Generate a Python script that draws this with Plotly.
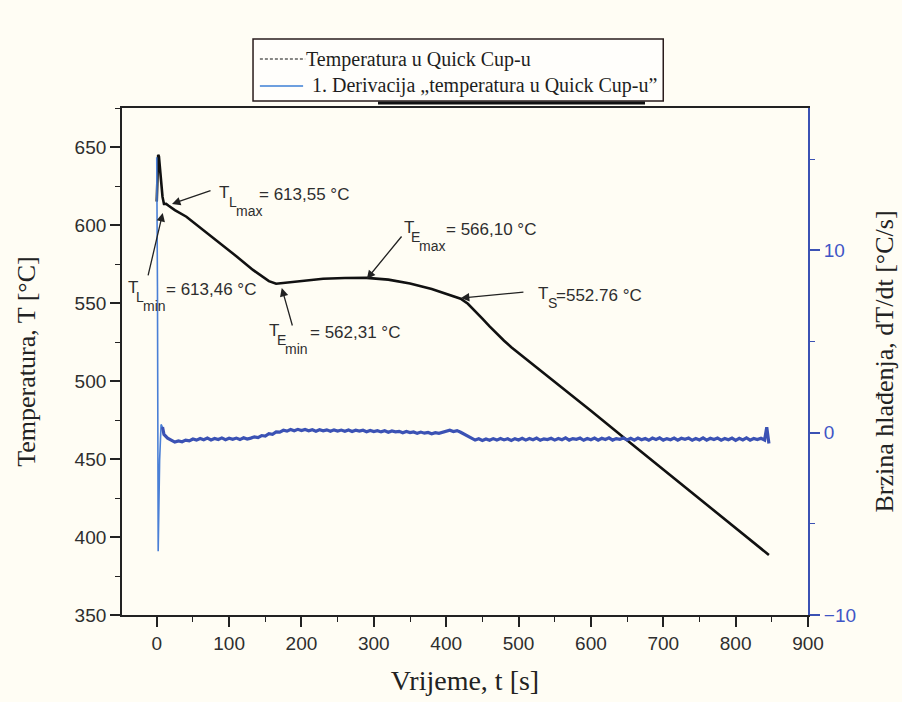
import plotly.graph_objects as go

# ---- Temperature curve (left axis) ----
temp_t = [0, 1, 2, 3, 5, 8, 10, 13, 16, 25, 41, 60, 87, 110, 133, 145, 155, 165, 180, 200, 230, 260,
          290, 320, 350, 380, 400, 420, 430, 440, 450, 460, 470, 480, 490, 500, 510, 550, 600, 650,
          700, 750, 800, 846]
temp_T = [615, 638, 645, 644, 632, 618, 613.46, 613.55, 612.5, 609.5, 605.3, 598.5, 588.5, 580, 571.2,
          567, 564, 562.31, 563, 564.3, 565.5, 566.0, 566.1, 565, 562.5, 559, 556, 552.76, 549.5, 545,
          540, 535, 530.2, 525.8, 521.6, 517.9, 514.1, 499.7, 480.9, 462, 443.4, 424.6, 405.8, 388.5]

# ---- First derivative (right axis) ----
deriv_t_start = [0, 1, 2, 3, 4, 6, 8]
deriv_v_start = [15.1, 8, -6.5, -4, -1.5, 0.45, 0.3]
deriv_v_main = [
    -0.10, -0.30, -0.42, -0.52, -0.46, -0.50, -0.41, -0.45, -0.35, -0.41,
    -0.32, -0.39, -0.30, -0.40, -0.32, -0.38, -0.29, -0.39, -0.31, -0.37,
    -0.30, -0.38, -0.28, -0.35, -0.30, -0.23, -0.27, -0.16, -0.19, -0.06,
    -0.09, 0.04, 0.03, 0.13, 0.08, 0.17, 0.10, 0.18, 0.11, 0.17,
    0.10, 0.16, 0.08, 0.16, 0.10, 0.15, 0.07, 0.15, 0.09, 0.14,
    0.07, 0.14, 0.06, 0.13, 0.08, 0.13, 0.05, 0.12, 0.06, 0.11,
    0.04, 0.10, 0.02, 0.09, 0.04, 0.07, -0.01, 0.06, 0.00, 0.04,
    -0.04, 0.03, -0.03, 0.01, -0.06, 0.00, -0.04, 0.03, 0.10, 0.13,
    0.06, 0.11, 0.02, -0.10, -0.22, -0.34, -0.41, -0.34, -0.43, -0.35,
    -0.42, -0.33, -0.41, -0.32, -0.40, -0.34, -0.43, -0.33, -0.40, -0.31,
    -0.41, -0.32, -0.39, -0.30, -0.42, -0.34, -0.38, -0.31, -0.41, -0.32,
    -0.39, -0.29, -0.41, -0.33, -0.37, -0.30, -0.42, -0.32, -0.39, -0.30,
    -0.41, -0.31, -0.38, -0.29, -0.41, -0.33, -0.37, -0.30, -0.40, -0.31,
    -0.41, -0.30, -0.39, -0.32, -0.42, -0.30, -0.38, -0.29, -0.41, -0.33,
    -0.39, -0.30, -0.41, -0.31, -0.37, -0.30, -0.42, -0.32, -0.40, -0.29,
    -0.41, -0.31, -0.38, -0.30, -0.41, -0.32, -0.39, -0.30, -0.42, -0.31,
    -0.40, -0.29, -0.41, -0.32, -0.38, -0.31, -0.41,
]
deriv_t_main = list(range(10, 10 + 5 * len(deriv_v_main), 5))
deriv_t_end = [843, 846]
deriv_v_end = [0.3, -0.6]
deriv_t = deriv_t_start + deriv_t_main + deriv_t_end
deriv_v = deriv_v_start + deriv_v_main + deriv_v_end
n_spike = len(deriv_t_start)

# ---- Axis ticks ----
x_ticks = [0, 100, 200, 300, 400, 500, 600, 700, 800, 900]
y_ticks = [350, 400, 450, 500, 550, 600, 650]
y2_ticks = [-10, 0, 10]

# ---- Point labels ----
# (symbol, sub, subsub, value text, anchor t, anchor T, sub shift, subsub shift, value shift)
labels = [
    ("T", "L", "max", "= 613,55 °C", 84.7, 620.8, 10, 17, 40),
    ("T", "L", "min", "= 613,46 °C", -41.0, 559.9, 8, 15, 38),
    ("T", "E", "min", "= 562,31 °C", 153.8, 532.1, 8, 16, 41),
    ("T", "E", "max", "= 566,10 °C", 340.4, 598.4, 7, 15, 42),
    ("T", "S", "", "=552.76 °C", 525.6, 555.8, 10, 0, 18),
]
# arrows: (head t, head T, tail t, tail T)
arrows = [
    (21.1, 613.5, 76.4, 622.4),
    (8.3, 607.7, -12.4, 566.7),
    (172.8, 559.6, 188.0, 534.6),
    (290.3, 565.4, 340.0, 593.6),
    (420.3, 553.2, 508.8, 557.0),
]

legend_names = ["Temperatura u Quick Cup-u", "1. Derivacija „temperatura u Quick Cup-u”"]

BLUE = "#3b52b4"
BLUE_LIGHT = "#4a7fd6"
BLUE_TXT = "#3f55c6"
BG = "#fffdf4"
SERIF = "Liberation Serif, Times New Roman, serif"
SANS = "Liberation Sans, Arial, sans-serif"
TXT = "#2e2e2e"

fig = go.Figure()
fig.add_trace(go.Scatter(x=temp_t, y=temp_T, mode="lines", line=dict(color="#111111", width=2.6),
                         showlegend=False, yaxis="y"))
fig.add_trace(go.Scatter(x=deriv_t[:n_spike + 1], y=deriv_v[:n_spike + 1], mode="lines",
                         line=dict(color=BLUE_LIGHT, width=1.6), showlegend=False, yaxis="y2"))
fig.add_trace(go.Scatter(x=deriv_t[n_spike - 1:], y=deriv_v[n_spike - 1:], mode="lines",
                         line=dict(color=BLUE, width=3.2), showlegend=False, yaxis="y2"))

annotations = []
for sym, sub, subsub, val, tx, ty, s1, s2, s3 in labels:
    common = dict(x=tx, y=ty, xref="x", yref="y", showarrow=False, xanchor="left",
                  yanchor="middle", borderpad=0)
    annotations.append(dict(common, text=sym, font=dict(family=SANS, size=17, color=TXT)))
    annotations.append(dict(common, text=sub, xshift=s1, yshift=-9,
                            font=dict(family=SANS, size=14, color=TXT)))
    if subsub:
        annotations.append(dict(common, text=subsub, xshift=s2, yshift=-18,
                                font=dict(family=SANS, size=14, color=TXT)))
    annotations.append(dict(common, text=val, xshift=s3, yshift=-1.5,
                            font=dict(family=SANS, size=17, color=TXT)))
for hx, hy, ax, ay in arrows:
    annotations.append(dict(x=hx, y=hy, xref="x", yref="y", ax=ax, ay=ay, axref="x", ayref="y",
                            text="", showarrow=True, arrowhead=2, arrowsize=1.3, arrowwidth=1.3,
                            arrowcolor="#222222"))

# legend texts (drawn inside a framed box above the plot)
annotations.append(dict(x=0.267, y=1.0966, xref="paper", yref="paper", text=legend_names[0],
                        showarrow=False, xanchor="left", yanchor="middle", borderpad=0,
                        font=dict(family=SERIF, size=20, color="#1e1e1e")))
annotations.append(dict(x=0.2755, y=1.0434, xref="paper", yref="paper", text=legend_names[1],
                        showarrow=False, xanchor="left", yanchor="middle", borderpad=0,
                        font=dict(family=SERIF, size=20, color="#1e1e1e")))

shapes = [
    dict(type="rect", xref="paper", yref="paper", x0=0.191, x1=0.789, y0=1.0138, y1=1.136,
         line=dict(color="#2a1c1c", width=1.5), fillcolor="#fffefb", layer="above"),
    dict(type="line", xref="paper", yref="paper", x0=0.3732, x1=0.7624, y0=1.0099, y1=1.0099,
         line=dict(color="#111111", width=3)),
    dict(type="line", xref="paper", yref="paper", x0=0.201, x1=0.267, y0=1.0966, y1=1.0966,
         line=dict(color="#111111", width=1.2, dash="3px,2px")),
    dict(type="line", xref="paper", yref="paper", x0=0.201, x1=0.264, y0=1.0434, y1=1.0434,
         line=dict(color="#3d7fd6", width=1.3)),
]

fig.update_layout(
    width=902, height=702,
    margin=dict(l=122, r=94, t=108, b=87, autoexpand=False),
    paper_bgcolor=BG, plot_bgcolor=BG,
    font=dict(family=SANS, size=19, color=TXT),
    showlegend=False,
    xaxis=dict(range=[-48, 900], tickvals=x_ticks, ticks="outside", ticklen=10, tickwidth=1.6,
               tickcolor="#222", showline=True, linecolor="#222", linewidth=1.8, mirror=True,
               showgrid=False, zeroline=False, automargin=False,
               minor=dict(dtick=50, tick0=0, ticks="outside", ticklen=5, tickwidth=1.4,
                          tickcolor="#222"),
               tickfont=dict(family=SANS, size=19, color=TXT),
               title=dict(text="Vrijeme, t [s]", font=dict(family=SERIF, size=28, color="#222"),
                          standoff=18)),
    yaxis=dict(range=[350, 675], tickvals=y_ticks, ticks="outside", ticklen=10, tickwidth=1.6,
               tickcolor="#222", showline=True, linecolor="#222", linewidth=1.8,
               showgrid=False, zeroline=False, automargin=False,
               minor=dict(dtick=25, tick0=350, ticks="outside", ticklen=5, tickwidth=1.4,
                          tickcolor="#222"),
               tickfont=dict(family=SANS, size=19, color=TXT),
               title=dict(text="Temperatura, T [°C]", font=dict(family=SERIF, size=26, color="#222"),
                          standoff=31)),
    yaxis2=dict(range=[-10, 17.8], tickvals=y2_ticks, overlaying="y", side="right", anchor="x",
                ticks="outside", ticklen=10, tickwidth=1.6, tickcolor=BLUE, automargin=False,
                showline=True, linecolor=BLUE, linewidth=2, showgrid=False, zeroline=False,
                minor=dict(dtick=5, tick0=-10, ticks="outside", ticklen=5, tickwidth=1.4,
                           tickcolor=BLUE),
                tickfont=dict(family=SANS, size=19, color=BLUE_TXT),
                title=dict(text="Brzina hlađenja, dT/dt [°C/s]",
                           font=dict(family=SERIF, size=26, color="#222"), standoff=20)),
    annotations=annotations,
    shapes=shapes,
)

fig.write_html("out.html", config={"displayModeBar": False},
               post_script="document.body.style.margin='0';"
                           "document.body.style.background='#fffdf4';")
